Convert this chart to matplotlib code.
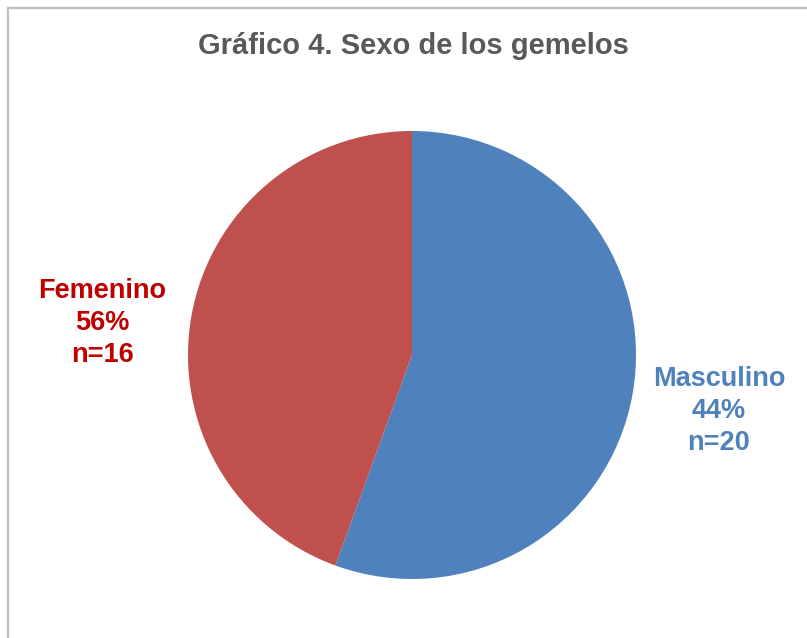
import matplotlib
matplotlib.use('Agg')
import matplotlib.pyplot as plt
from matplotlib.lines import Line2D

plt.rcParams['font.family'] = ['Liberation Sans', 'DejaVu Sans']

# datos del grafico
categorias = ['Masculino', 'Femenino']
conteos = [20, 16]
porcentajes = ['44%', '56%']   # tal como aparecen en el original
colores = ['#4F81BD', '#C0504D']
colores_texto = ['#4F81BD', '#C00000']
titulo = 'Gráfico 4. Sexo de los gemelos'

W, H = 807, 638
fig = plt.figure(figsize=(W / 100, H / 100), dpi=100)

# borde del area del grafico
borde = '#BFBFBF'
fig.add_artist(Line2D([8 / W, 8 / W], [0, 1 - 8 / H], color=borde, lw=1.6, transform=fig.transFigure))
fig.add_artist(Line2D([8 / W, 1], [1 - 8 / H, 1 - 8 / H], color=borde, lw=1.6, transform=fig.transFigure))

# pie: centro (412, 355) px, radio 224 px
cx, cy, r = 412, 355, 224
ax = fig.add_axes([(cx - r) / W, (H - cy - r) / H, 2 * r / W, 2 * r / H])
ax.pie(conteos, colors=colores, startangle=90, counterclock=False,
       wedgeprops={'linewidth': 0})
ax.set_xlim(-1, 1)
ax.set_ylim(-1, 1)
ax.axis('off')

# etiquetas
pos = [((719 - cx) / r, (cy - 411) / r), ((102 - cx) / r, (cy - 323) / r)]
for i, cat in enumerate(categorias):
    ax.text(pos[i][0], pos[i][1], f'{cat}\n{porcentajes[i]}\nn={conteos[i]}',
            ha='center', va='center', fontsize=19.5, fontweight='bold',
            color=colores_texto[i], linespacing=1.32, clip_on=False)

fig.text(413 / W, 1 - 46 / H, titulo, ha='center', va='center',
         fontsize=21, fontweight='bold', color='#595959')

fig.savefig('out.png', dpi=100)
